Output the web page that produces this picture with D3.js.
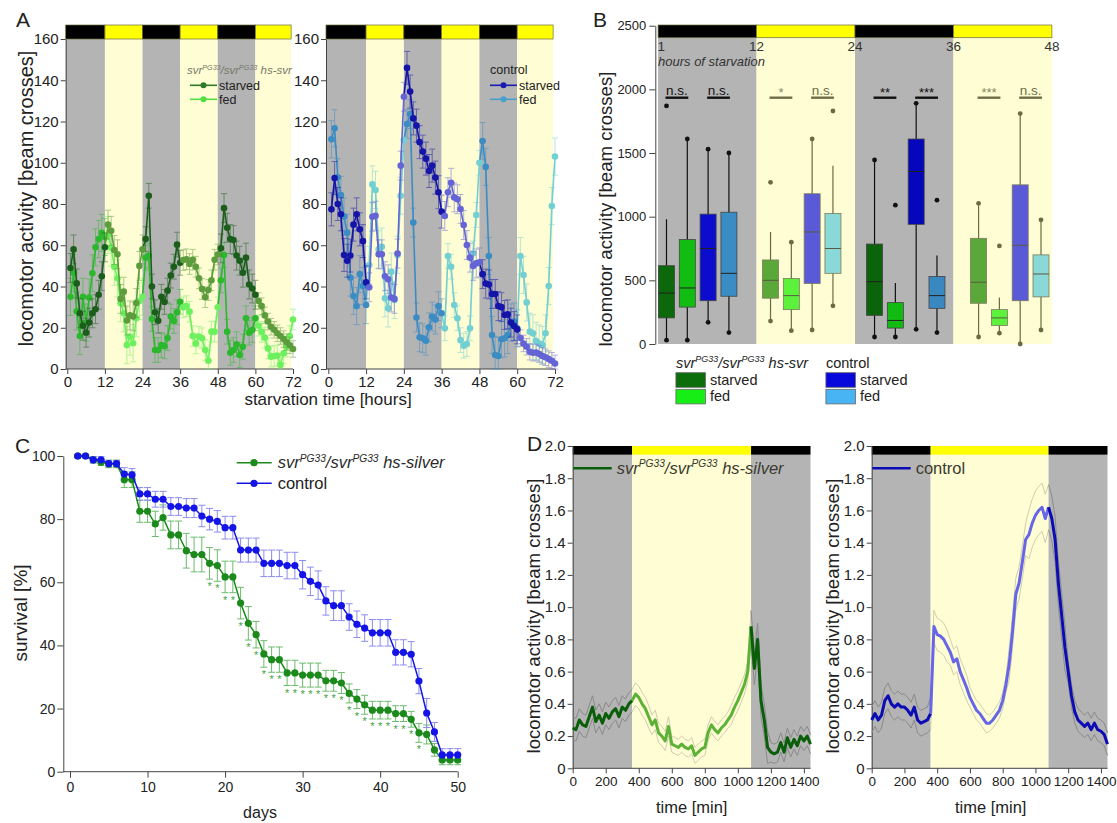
<!DOCTYPE html>
<html>
<head>
<meta charset="utf-8">
<title>svr locomotor activity and survival</title>
<script src="https://cdn.jsdelivr.net/npm/d3@7"></script>
<style>
  body { margin: 0; background: #fff; }
  svg { display: block; }
</style>
</head>
<body>
<div id="figure"></div>
<script>
// ---------- Panel A: hourly activity while starved / fed ----------
var hoursA = d3.range(1, 73);
var edgesA = [0, 12, 24, 36, 48, 60, 72];
var phaseA = ["dark", "light", "dark", "light", "dark", "light"];
var ticksAx = [0, 12, 24, 36, 48, 60, 72];
var ticksAy = [0, 20, 40, 60, 80, 100, 120, 140, 160];

var svrStarvedA = [49, 58, 41.5, 27, 21, 17.6, 22.5, 27, 29, 36, 45, 59,
  70, 67, 57.7, 55.6, 34, 37.5, 23.5, 26, 25.5, 32, 50, 58,
  63, 84, 40, 27.5, 23.4, 35, 32.5, 38, 45.3, 49.6, 60.3, 51.5,
  52.8, 53.2, 50.9, 53, 49.6, 44, 38.8, 34.8, 38.3, 43, 53, 55.5,
  58.5, 78, 68.5, 63, 62.5, 55, 52.5, 46.7, 54, 41, 39, 36,
  33, 30.5, 26, 23, 20.5, 19, 17.3, 16, 14.5, 13, 11.5, 9.7];
var svrFedA = [35, 46.5, 28, 16, 35, 22.5, 34.6, 46.4, 59, 63, 66, 64,
  65, 58.8, 49.6, 44, 31.9, 27, 11.6, 15.7, 12.5, 24.6, 33, 35,
  54, 55, 24.2, 9.2, 9.2, 11.6, 11, 15, 25.4, 23.3, 27.5, 32.6,
  29.9, 30.5, 27.8, 16, 12.4, 15.7, 14.9, 9.2, 4, 18.1, 18.1, 29.9,
  43, 55.3, 18.1, 7.9, 9.2, 12, 6.8, 10.8, 24.6, 17.6, 18.9, 24.6,
  21, 18, 15.2, 10, 6, 6.3, 6.5, 2, 7.6, 10.8, 16, 24];
var ctlStarvedA = [77.4, 92.6, 80, 75, 55.3, 52.5, 55, 70, 75, 67.7, 62, 42,
  39.6, 73.8, 74.3, 55.6, 55.6, 45, 43.5, 34.7, 34, 56, 98.6, 132,
  146, 134.5, 121.5, 118, 110, 105.4, 102, 96, 98.6, 92.8, 85.7, 76.3,
  74.2, 85.7, 90.3, 83.2, 82.3, 77.6, 69.8, 60.1, 54, 50, 51.2, 51.7,
  46, 41.4, 41, 36.4, 36.4, 30.5, 30, 26.2, 26.5, 22.5, 20.8, 19.2,
  15, 12.4, 10.8, 8.4, 7.9, 8, 7.3, 6.3, 5.7, 4.8, 4, 2.7];
var ctlFedA = [111.4, 116.7, 93, 84.4, 73.9, 66.1, 44.3, 35.4, 30.5, 46, 40.2, 31,
  50.4, 89.5, 86.8, 58, 59.3, 34.3, 29.4, 47.2, 33.5, 55.3, 84, 111,
  118.8, 123.6, 71, 25, 15.4, 14.9, 13.7, 20.2, 25.4, 24, 30.5, 27,
  19.7, 54.8, 49.6, 31, 24.6, 14, 11.3, 12.1, 19.7, 56, 74.7, 100,
  110.5, 98, 54.8, 16.5, 6.8, 6.3, 14.4, 14.9, 16.5, 22.5, 23, 19.7,
  54.8, 45.6, 32.3, 18.1, 17.3, 13.6, 12.4, 11.6, 17.3, 40.2, 79, 103];
// error bar size, one per 12 h block
var svrStarvedErrA = [7, 7, 6, 5, 7, 4];
var svrFedErrA = [9, 9, 6, 5, 6, 5];
var ctlStarvedErrA = [8, 7, 8, 7, 7, 4];
var ctlFedErrA = [9, 9, 7, 6, 9, 9];

// ---------- Panel B: box plots per 12 h of starvation ----------
var edgesB = [0, 12, 24, 36, 48];
var phaseB = ["dark", "light", "dark", "light"];
var hourLabelsB = ["1", "12", "24", "36", "48"];
var ticksBy = [0, 500, 1000, 1500, 2000, 2500];
var boxNamesB = ["svr starved", "svr fed", "control starved", "control fed"];
var boxLoB = [30, 30, 170, 90, 180, 105, 110, 300, 55, 55, 115, 90, 55, 85, 0, 110];
var boxQ1B = [205, 290, 340, 375, 360, 270, 475, 555, 225, 125, 940, 280, 320, 145, 340, 370];
var boxMedB = [400, 440, 750, 555, 500, 380, 880, 750, 490, 185, 1355, 380, 485, 205, 775, 550];
var boxQ3B = [615, 820, 1020, 1035, 660, 515, 1180, 1025, 785, 325, 1610, 530, 830, 270, 1250, 700];
var boxHiB = [980, 1610, 1530, 1500, 880, 800, 1610, 1400, 1445, 480, 1890, 695, 1105, 365, 1810, 975];
var boxOutB = [[1870], [], [], [], [1270], [], [], [1830], [], [1090], [], [1130], [], [770], [], []];
var boxColorB = ["#0b680b", "#12bd12", "#0c0cce", "#3a8cc4",
  "#5aa83a", "#5cf23c", "#5a5ad8", "#8ad8d8",
  "#0b640b", "#12bb12", "#0606bc", "#3a88c0",
  "#5aa83a", "#5cf23c", "#5a5ad8", "#8ad8d8"];
var sigSlotsB = [[0, 1], [2, 3], [5, 6], [7, 8], [10, 11], [12, 13], [15, 16], [17, 18]];
var sigTextB = ["n.s.", "n.s.", "*", "n.s.", "**", "***", "***", "n.s."];

// ---------- Panel C: survival ----------
var daysC = d3.range(1, 51);
var ticksCx = [0, 10, 20, 30, 40, 50];
var ticksCy = [0, 20, 40, 60, 80, 100];
var svrSurvC = [100, 100, 98.8, 98, 97.5, 97.5, 92.5, 92.5, 82.5, 82.5,
  78.5, 80.5, 75, 75, 70, 68.8, 68.8, 66, 65.3, 61.7,
  61.7, 53.4, 47, 43.4, 37.3, 35.5, 35.5, 31.3, 31.3, 30.6,
  30.6, 30.6, 28.8, 28.8, 28.1, 24.8, 23, 21.2, 19.5, 19.5,
  19.5, 18.4, 18.4, 16.6, 12.3, 11.8, 6.9, 3.7, 3.7, 3.7];
var ctlSurvC = [100, 100, 98.8, 98.8, 97.6, 97.6, 94.3, 94, 88, 88,
  86.3, 86.3, 84, 84, 83.5, 83.5, 81, 80, 79.3, 77.3,
  77.3, 70.2, 70.2, 70.2, 66, 66, 66, 65.3, 65.3, 62.4,
  60.3, 59.1, 54.1, 52.6, 52.6, 49, 46.7, 45.5, 44, 44,
  44, 37.8, 37.8, 37.2, 28.7, 18.6, 12.6, 5.3, 5.3, 5.3];
var svrErrC = [0.5, 0.5, 1, 1, 1.2, 1.2, 2.5, 2.5, 3.5, 3.5,
  4, 4, 4.4, 4.4, 5.5, 5.5, 5.5, 5, 5, 5,
  5, 5, 5.3, 4.2, 4.2, 4, 4, 4, 4, 3.8,
  3.8, 3.8, 3.3, 3.3, 3.3, 3, 3, 3, 2.8, 2.8,
  2.8, 2.5, 2.5, 2.5, 3, 3, 2, 1.5, 1.5, 1.5];
var ctlErrC = [0.5, 0.5, 1, 1, 1, 1, 2, 2, 2, 2,
  2.5, 2.5, 2.8, 2.8, 3, 3, 3.4, 3.4, 3.4, 3.6,
  3.6, 3.8, 3.8, 3.8, 4.2, 4.2, 4.2, 4.2, 4.2, 4.5,
  4.5, 4.5, 4.5, 4.7, 4.7, 4.2, 4.2, 4.2, 4.2, 4.2,
  4.2, 4, 4, 4, 4, 4.6, 3, 2, 2, 2];
var starDaysC = [18, 19, 20, 21, 22, 23, 24, 25, 26, 27, 28, 29, 30, 31,
  32, 33, 34, 35, 36, 37, 38, 39, 40, 41, 42, 43, 44, 45];

// ---------- Panel D: daily activity profile (20 min bins) ----------
var timesD = d3.range(0, 1441, 20);
var edgesD = [0, 360, 1080, 1440];
var phaseD = ["dark", "light", "dark"];
var ticksDx = [0, 200, 400, 600, 800, 1000, 1200, 1400];
var ticksDy = [0, 0.2, 0.4, 0.6, 0.8, 1, 1.2, 1.4, 1.6, 1.8, 2];
var svrMeanD = [0.25, 0.24, 0.3, 0.27, 0.26, 0.32, 0.38, 0.29, 0.33, 0.28, 0.34, 0.31, 0.35, 0.37, 0.32, 0.38, 0.36, 0.4, 0.42,
  0.46, 0.44, 0.4, 0.37, 0.32, 0.27, 0.3, 0.22, 0.2, 0.17, 0.26, 0.15, 0.14, 0.13, 0.15, 0.13, 0.12, 0.14, 0.08, 0.1,
  0.12, 0.13, 0.22, 0.27, 0.24, 0.22, 0.25, 0.27, 0.3, 0.33, 0.38, 0.42, 0.47, 0.52, 0.6, 0.88,
  0.62, 0.8, 0.42, 0.3, 0.13, 0.1, 0.09, 0.1, 0.16, 0.1, 0.19, 0.13, 0.18, 0.14, 0.2, 0.17, 0.2, 0.15];
var ctlMeanD = [0.3, 0.34, 0.3, 0.33, 0.42, 0.45, 0.4, 0.38, 0.4, 0.38, 0.38, 0.36, 0.33, 0.38, 0.3, 0.28, 0.29, 0.3, 0.34,
  0.88, 0.83, 0.82, 0.8, 0.76, 0.72, 0.66, 0.68, 0.6, 0.55, 0.5, 0.44, 0.4, 0.36, 0.34, 0.31, 0.28, 0.28, 0.3, 0.33,
  0.36, 0.42, 0.52, 0.65, 0.85, 1.08, 1.15, 1.28, 1.42, 1.45, 1.52, 1.57, 1.6, 1.62, 1.55, 1.62,
  1.55, 1.42, 1.15, 0.95, 0.75, 0.6, 0.45, 0.35, 0.3, 0.28, 0.26, 0.28, 0.24, 0.28, 0.24, 0.23, 0.21, 0.15];
// SEM, one per 2 h block
var svrSemD = [0.07, 0.07, 0.07, 0.07, 0.06, 0.05, 0.05, 0.05, 0.06, 0.1, 0.06, 0.06];
var ctlSemD = [0.08, 0.08, 0.08, 0.1, 0.08, 0.06, 0.05, 0.1, 0.15, 0.14, 0.07, 0.07];

// ---------- drawing ----------
var W = 1117, H = 823;
var FONT = '"Liberation Sans", Arial, Helvetica, sans-serif';
var GRAY = "#b4b4b4", PALE = "#fefdd3", YELLOW = "#ffff00", INK = "#222";
var plain = d3.format("d");

var svg = d3.select("#figure").append("svg")
  .attr("width", W).attr("height", H)
  .style("font-family", FONT);
svg.append("rect").attr("width", W).attr("height", H).attr("fill", "#fff");

function label(g, x, y, s, size) {
  return g.append("text").attr("x", x).attr("y", y).attr("fill", INK)
    .style("font-size", size + "px").text(s);
}

function yLabel(g, x, y, s, size) {
  return g.append("text").attr("transform", "translate(" + x + "," + y + ") rotate(-90)")
    .attr("text-anchor", "middle").attr("fill", INK).style("font-size", size + "px").text(s);
}

function genotype(g, x, y, size, tail, color) {
  var sup = size * 0.62, up = size * 0.38;
  var t = g.append("text").attr("x", x).attr("y", y).attr("fill", color)
    .style("font-size", size + "px").style("font-style", "italic");
  t.append("tspan").text("svr");
  t.append("tspan").attr("dy", -up).style("font-size", sup + "px").text("PG33");
  t.append("tspan").attr("dy", up).text("/svr");
  t.append("tspan").attr("dy", -up).style("font-size", sup + "px").text("PG33");
  t.append("tspan").attr("dy", up).text("\u00a0" + tail);
  return t;
}

function styleAxis(ax, size) {
  ax.attr("font-family", null).attr("font-size", null);
  ax.selectAll("text").attr("fill", INK).style("font-size", size + "px");
  ax.selectAll("line").attr("stroke", "#444");
  ax.selectAll("path").attr("stroke", "#444");
}

// ----- A -----
function seriesA(g, x, y, s) {
  function colorAt(h) {
    var k = Math.min(phaseA.length - 1, Math.max(0, Math.floor(h / 12)));
    return phaseA[k] === "dark" ? s.dark : s.light;
  }
  var eg = g.append("g").attr("opacity", 0.5).attr("stroke-width", 1);
  hoursA.forEach(function (h, i) {
    var v = s.values[i], e = s.err[Math.min(5, Math.floor((h - 1) / 12))];
    var c = colorAt(h - 0.5), cx = x(h);
    var y1 = y(Math.max(0, v - e)), y2 = y(v + e);
    eg.append("line").attr("x1", cx).attr("x2", cx).attr("y1", y1).attr("y2", y2).attr("stroke", c);
    [y1, y2].forEach(function (yy) {
      eg.append("line").attr("x1", cx - 3).attr("x2", cx + 3).attr("y1", yy).attr("y2", yy).attr("stroke", c);
    });
  });
  for (var i = 0; i < hoursA.length - 1; i++) {
    g.append("line")
      .attr("x1", x(hoursA[i])).attr("y1", y(s.values[i]))
      .attr("x2", x(hoursA[i + 1])).attr("y2", y(s.values[i + 1]))
      .attr("stroke", colorAt(hoursA[i] + 0.5)).attr("stroke-width", 1.6);
  }
  hoursA.forEach(function (h, i) {
    g.append("circle").attr("cx", x(h)).attr("cy", y(s.values[i])).attr("r", 3.3)
      .attr("fill", colorAt(h - 0.5));
  });
}

function panelA(o) {
  var x = d3.scaleLinear().domain([0, 72]).range([o.x0, o.x1]);
  var y = d3.scaleLinear().domain([0, 160]).range([369, 39]);
  var g = svg.append("g");
  var left = o.axis, right = x(71.4);
  phaseA.forEach(function (kind, i) {
    var a = i === 0 ? left : x(edgesA[i]);
    var b = i === phaseA.length - 1 ? right : x(edgesA[i + 1]);
    g.append("rect").attr("x", a).attr("y", 39).attr("width", b - a).attr("height", 330)
      .attr("fill", kind === "dark" ? GRAY : PALE);
    g.append("rect").attr("x", a).attr("y", 25).attr("width", b - a).attr("height", 14)
      .attr("fill", kind === "dark" ? "#000" : YELLOW)
      .attr("stroke", "#6b6b3a").attr("stroke-width", 0.7);
  });
  var ay = g.append("g").attr("transform", "translate(" + left + ",0)")
    .call(d3.axisLeft(y).tickValues(ticksAy).tickSize(5).tickSizeOuter(0).tickPadding(2));
  styleAxis(ay, 15);
  var ax = g.append("g").attr("transform", "translate(0,369)")
    .call(d3.axisBottom(x).tickValues(ticksAx).tickSize(5).tickSizeOuter(0).tickPadding(2));
  ax.select(".domain").remove();
  styleAxis(ax, 15);
  g.append("line").attr("x1", left).attr("x2", x(72)).attr("y1", 369).attr("y2", 369)
    .attr("stroke", "#444");

  o.series.forEach(function (s) { seriesA(g, x, y, s); });

  // legend
  var lx = o.legendX;
  if (o.genotype) genotype(g, lx - 3, 74, 11.5, "hs-svr", "#77776a");
  else label(g, lx, 74, "control", 12.5);
  [o.series[1], o.series[0]].forEach(function (s, i) {
    var ly = 85.3 + i * 14;
    g.append("line").attr("x1", lx).attr("x2", lx + 27).attr("y1", ly).attr("y2", ly)
      .attr("stroke", s.legend).attr("stroke-width", 1.6);
    g.append("circle").attr("cx", lx + 13.5).attr("cy", ly).attr("r", 3).attr("fill", s.legend);
    label(g, lx + 29, ly + 4.5, s.name, 12.5);
  });
}

// ----- B -----
function panelB() {
  var g = svg.append("g");
  var y = d3.scaleLinear().domain([0, 2500]).range([344, 25.7]);
  var xh = d3.scaleLinear().domain([0, 48]).range([658.1, 1051.9]);
  var xs = d3.scaleLinear().domain([0, 18]).range([666.5, 1041]);
  phaseB.forEach(function (kind, i) {
    var a = xh(edgesB[i]), b = xh(edgesB[i + 1]);
    g.append("rect").attr("x", a).attr("y", 37.7).attr("width", b - a).attr("height", 344 - 37.7)
      .attr("fill", kind === "dark" ? GRAY : PALE);
    g.append("rect").attr("x", a).attr("y", 25).attr("width", b - a).attr("height", 12.7)
      .attr("fill", kind === "dark" ? "#000" : YELLOW)
      .attr("stroke", "#6b6b3a").attr("stroke-width", 0.7);
  });
  hourLabelsB.forEach(function (s, i) {
    var t = label(g, xh(edgesB[i]) + (i === 0 ? -0.5 : 0), 50.5, s, 13.5).attr("fill", "#333");
    t.attr("text-anchor", i === 0 ? "start" : "middle");
  });
  label(g, 658, 65.5, "hours of starvation", 13).style("font-style", "italic").attr("fill", "#333");

  var ay = g.append("g").attr("transform", "translate(655.3,0)")
    .call(d3.axisLeft(y).tickValues(ticksBy).tickSize(6).tickSizeOuter(0).tickPadding(3)
      .tickFormat(plain));
  styleAxis(ay, 13);

  boxNamesB.concat(boxNamesB, boxNamesB, boxNamesB).forEach(function (name, k) {
    var grp = Math.floor(k / 4), slot = grp * 5 + (k % 4);
    var cx = xs(slot), bw = 16;
    var ink = phaseB[grp] === "dark" ? "#111" : "#6b6b45";
    var bg = g.append("g");
    bg.append("line").attr("x1", cx).attr("x2", cx).attr("y1", y(boxLoB[k])).attr("y2", y(boxHiB[k]))
      .attr("stroke", ink).attr("stroke-width", 1.2);
    bg.append("rect").attr("x", cx - bw / 2).attr("y", y(boxQ3B[k]))
      .attr("width", bw).attr("height", y(boxQ1B[k]) - y(boxQ3B[k]))
      .attr("fill", boxColorB[k]).attr("stroke", phaseB[grp] === "dark" ? "#444" : "#7a7a5a")
      .attr("stroke-width", 0.8);
    bg.append("line").attr("x1", cx - bw / 2).attr("x2", cx + bw / 2)
      .attr("y1", y(boxMedB[k])).attr("y2", y(boxMedB[k]))
      .attr("stroke", phaseB[grp] === "dark" ? "#222" : "#5a5a40").attr("stroke-width", 1);
    var dots = [boxLoB[k]].concat(boxOutB[k].length ? boxOutB[k] : [boxHiB[k]]);
    dots.forEach(function (v) {
      bg.append("circle").attr("cx", cx).attr("cy", y(v)).attr("r", 2.4).attr("fill", ink);
    });
  });

  sigSlotsB.forEach(function (pr, i) {
    var grp = Math.floor(pr[0] / 5);
    var ink = phaseB[grp] === "dark" ? "#111" : "#6e6e4a";
    var a = xs(pr[0]), b = xs(pr[1]);
    g.append("line").attr("x1", a - 1).attr("x2", b + 1).attr("y1", 97.7).attr("y2", 97.7)
      .attr("stroke", ink).attr("stroke-width", 2.4);
    var star = sigTextB[i].charAt(0) === "*";
    label(g, (a + b) / 2, star ? 97 : 94.5, sigTextB[i], star ? 13 : 13.5)
      .attr("text-anchor", "middle").attr("fill", star && grp % 2 === 1 ? "#8a8a66" : ink);
  });

  yLabel(g, 612, 209, "locomotor activity [beam crosses]", 18.6);

  // legend
  genotype(g, 675.9, 368, 14.5, "hs-svr", INK);
  label(g, 825.9, 368, "control", 14.5);
  var sw = [["#0b6e0b", "#16ee16"], ["#0808dc", "#48b4f4"]];
  [675.9, 825.9].forEach(function (lx, j) {
    ["starved", "fed"].forEach(function (nm, i) {
      var ty = 372.7 + i * 16.6;
      g.append("rect").attr("x", lx).attr("y", ty).attr("width", 29.5).attr("height", 14.6)
        .attr("fill", sw[j][i]).attr("stroke", "#666").attr("stroke-width", 0.8);
      label(g, lx + 34, ty + 12, nm, 14.5);
    });
  });
}

// ----- C -----
function panelC() {
  var g = svg.append("g");
  var x = d3.scaleLinear().domain([0, 50]).range([70, 457.7]);
  var y = d3.scaleLinear().domain([0, 100]).range([771.7, 456]);
  var ay = g.append("g").attr("transform", "translate(63.3,0)")
    .call(d3.axisLeft(y).tickValues(ticksCy).tickSize(6).tickSizeOuter(0).tickPadding(2));
  styleAxis(ay, 14);
  var ax = g.append("g").attr("transform", "translate(0,771.7)")
    .call(d3.axisBottom(x).tickValues(ticksCx).tickSize(6).tickSizeOuter(0).tickPadding(4));
  ax.select(".domain").remove();
  styleAxis(ax, 14);
  g.append("line").attr("x1", 63.3).attr("x2", x(50)).attr("y1", 771.7).attr("y2", 771.7).attr("stroke", "#444");

  var series = [
    { values: svrSurvC, err: svrErrC, color: "#1b8a1b", errColor: "#6cbb6c" },
    { values: ctlSurvC, err: ctlErrC, color: "#1414e6", errColor: "#8c8cf0" }
  ];
  series.forEach(function (s) {
    var eg = g.append("g").attr("stroke", s.errColor).attr("stroke-width", 1);
    daysC.forEach(function (d, i) {
      var cx = x(d), y1 = y(s.values[i] - s.err[i]), y2 = y(Math.min(s.values[i] + s.err[i], 101));
      eg.append("line").attr("x1", cx).attr("x2", cx).attr("y1", y1).attr("y2", y2);
      eg.append("line").attr("x1", cx - 3.5).attr("x2", cx + 3.5).attr("y1", y1).attr("y2", y1);
      eg.append("line").attr("x1", cx - 3.5).attr("x2", cx + 3.5).attr("y1", y2).attr("y2", y2);
    });
  });
  series.forEach(function (s) {
    g.append("path").datum(s.values)
      .attr("d", d3.line().x(function (v, i) { return x(daysC[i]); }).y(function (v) { return y(v); }))
      .attr("fill", "none").attr("stroke", s.color).attr("stroke-width", 1.5);
    g.selectAll(null).data(s.values).enter().append("circle")
      .attr("cx", function (v, i) { return x(daysC[i]); })
      .attr("cy", function (v) { return y(v); })
      .attr("r", 3.6).attr("fill", s.color);
  });
  starDaysC.forEach(function (d) {
    var i = daysC.indexOf(d);
    label(g, x(d), y(svrSurvC[i] - svrErrC[i]) + 11, "*", 11)
      .attr("text-anchor", "middle").attr("fill", "#3f9f3f");
  });

  // legend
  [[series[0], 462.7], [series[1], 483.3]].forEach(function (p) {
    g.append("line").attr("x1", 236.7).attr("x2", 271.7).attr("y1", p[1]).attr("y2", p[1])
      .attr("stroke", p[0].color).attr("stroke-width", 1.5);
    g.append("circle").attr("cx", 254).attr("cy", p[1]).attr("r", 3.6).attr("fill", p[0].color);
  });
  genotype(g, 277.7, 468.3, 16.5, "hs-silver", "#2a2a2a");
  label(g, 277.7, 489.3, "control", 16.5);

  label(g, 260, 818, "days", 16).attr("text-anchor", "middle");
  yLabel(g, 27, 613, "survival [%]", 19);
}

// ----- D -----
function panelD(o) {
  var g = svg.append("g");
  var x = d3.scaleLinear().domain([0, 1440]).range([o.x0, o.x1]);
  var y = d3.scaleLinear().domain([0, 2]).range([768.3, 446]);
  phaseD.forEach(function (kind, i) {
    var a = x(edgesD[i]), b = x(edgesD[i + 1]);
    g.append("rect").attr("x", a).attr("y", 454.7).attr("width", b - a).attr("height", 768.3 - 454.7)
      .attr("fill", kind === "dark" ? GRAY : PALE);
    g.append("rect").attr("x", a).attr("y", 446).attr("width", b - a).attr("height", 8.7)
      .attr("fill", kind === "dark" ? "#000" : YELLOW);
  });
  var ay = g.append("g").attr("transform", "translate(" + o.x0 + ",0)")
    .call(d3.axisLeft(y).tickValues(ticksDy).tickSize(5).tickSizeOuter(0).tickPadding(2)
      .tickFormat(function (d) { return d === 0 ? "0" : d3.format(".1f")(d); }));
  styleAxis(ay, 15);
  var ax = g.append("g").attr("transform", "translate(0,768.3)")
    .call(d3.axisBottom(x).tickValues(ticksDx).tickSize(5).tickSizeOuter(0).tickPadding(3)
      .tickFormat(plain));
  ax.select(".domain").remove();
  styleAxis(ax, 13.5);
  g.append("line").attr("x1", o.x0).attr("x2", o.x1).attr("y1", 768.3).attr("y2", 768.3).attr("stroke", "#444");

  function semAt(i) { return o.sem[Math.min(o.sem.length - 1, Math.floor(timesD[i] / 120))]; }
  function phaseIdx(k) {
    return timesD.map(function (t, i) { return i; }).filter(function (i) {
      return timesD[i] >= edgesD[k] && timesD[i] <= edgesD[k + 1];
    });
  }
  phaseD.forEach(function (kind, k) {
    var idx = phaseIdx(k);
    var semCol = kind === "dark" ? "#8a8a8a" : "#d0ceae";
    [1, -1].forEach(function (sign) {
      g.append("path").datum(idx)
        .attr("d", d3.line().x(function (i) { return x(timesD[i]); })
          .y(function (i) { return y(Math.max(0, o.mean[i] + sign * semAt(i))); }))
        .attr("fill", "none").attr("stroke", semCol).attr("stroke-width", 1);
    });
  });
  phaseD.forEach(function (kind, k) {
    g.append("path").datum(phaseIdx(k))
      .attr("d", d3.line().x(function (i) { return x(timesD[i]); }).y(function (i) { return y(o.mean[i]); }))
      .attr("fill", "none").attr("stroke", kind === "dark" ? o.dark : o.light)
      .attr("stroke-width", 3).attr("stroke-linejoin", "round");
  });

  // legend
  g.append("line").attr("x1", o.x0 + 0.6).attr("x2", o.x0 + 39).attr("y1", 468.3).attr("y2", 468.3)
    .attr("stroke", o.dark).attr("stroke-width", 2.5);
  if (o.genotype) genotype(g, o.x0 + 44, 473.5, 16.5, "hs-silver", "#3a3a30");
  else label(g, o.x0 + 44, 473.5, "control", 16.5).attr("fill", "#3a3a30");

  label(g, o.labelX, 813, "time [min]", 16.5).attr("text-anchor", "middle");
  yLabel(g, o.x0 - 32.5, 616, "locomotor activity [beam crosses]", 18.6);
}

// ---------- compose ----------
panelA({
  x0: 67.3, x1: 293, axis: 65.7, legendX: 190, genotype: true,
  series: [
    { name: "starved", values: svrStarvedA, err: svrStarvedErrA, dark: "#1b5e1b", light: "#5c9c3c", legend: "#2f7a2a" },
    { name: "fed", values: svrFedA, err: svrFedErrA, dark: "#2cb82c", light: "#6cf05e", legend: "#55dd44" }
  ].reverse()
});
panelA({
  x0: 328.3, x1: 555, axis: 326, legendX: 490, genotype: false,
  series: [
    { name: "starved", values: ctlStarvedA, err: ctlStarvedErrA, dark: "#1414a8", light: "#6464d6", legend: "#1a1ab0" },
    { name: "fed", values: ctlFedA, err: ctlFedErrA, dark: "#3c8cc4", light: "#72cfd2", legend: "#48a0cc" }
  ].reverse()
});
yLabel(svg, 33, 198.5, "locomotor activity [beam crosses]", 20);
label(svg, 328, 405, "starvation time [hours]", 17).attr("text-anchor", "middle");

panelB();
panelC();
panelD({ x0: 572.7, x1: 810.5, mean: svrMeanD, sem: svrSemD, dark: "#0a5e0a", light: "#5cb236",
  genotype: true, labelX: 691.7 });
panelD({ x0: 871.7, x1: 1107.5, mean: ctlMeanD, sem: ctlSemD, dark: "#0c0cb4", light: "#6666e6",
  genotype: false, labelX: 990.7 });

label(svg, 16, 27, "A", 21);
label(svg, 593, 27, "B", 21);
label(svg, 15, 453, "C", 21);
label(svg, 527, 451, "D", 21);
</script>
</body>
</html>
